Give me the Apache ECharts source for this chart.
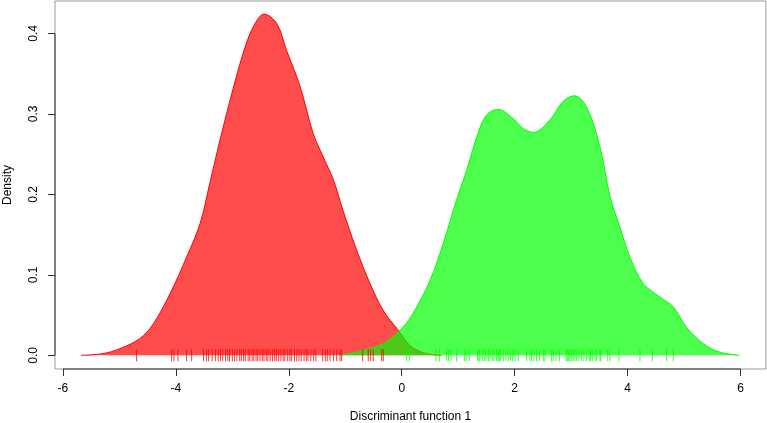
<!DOCTYPE html>
<html>
<head>
<meta charset="utf-8">
<script src="https://cdn.jsdelivr.net/npm/echarts@6/dist/echarts.min.js"></script>
<style>
html,body{margin:0;padding:0;background:#fff;}
#chart{width:767px;height:423px;}
</style>
</head>
<body>
<div id="chart"></div>
<script>
// Density curve of group 1 (red): [x, density]
const redDensity = [
  [-5.68, 0], [-5.30, 0.002], [-4.99, 0.0083], [-4.64, 0.0207], [-4.40, 0.039],
  [-4.10, 0.077], [-3.81, 0.122], [-3.57, 0.164], [-3.40, 0.2136], [-3.22, 0.267],
  [-3.04, 0.317], [-2.81, 0.375], [-2.63, 0.408], [-2.435, 0.424], [-2.215, 0.4125],
  [-2.04, 0.379], [-1.80, 0.334], [-1.57, 0.276], [-1.40, 0.248],
  [-1.21, 0.218], [-1.04, 0.180], [-0.80, 0.131], [-0.56, 0.089], [-0.33, 0.056],
  [-0.06, 0.031], [0.15, 0.012], [0.40, 0.003], [0.70, 0]
];
// Density curve of group 2 (green): [x, density]
const greenDensity = [
  [-1.09, 0], [-0.68, 0.006], [-0.33, 0.0145], [-0.03, 0.031], [0.20, 0.052],
  [0.50, 0.093], [0.735, 0.139], [0.97, 0.193], [1.15, 0.230], [1.33, 0.2715],
  [1.50, 0.2985], [1.71, 0.3056], [1.975, 0.294], [2.15, 0.282], [2.33, 0.277],
  [2.62, 0.292], [2.85, 0.315], [3.055, 0.3225], [3.27, 0.309], [3.51, 0.259],
  [3.69, 0.197], [3.86, 0.160], [4.04, 0.122], [4.28, 0.089], [4.57, 0.0725],
  [4.81, 0.060], [5.04, 0.035], [5.34, 0.0145], [5.63, 0.004], [5.98, 0]
];
// Rug observations
const redRug = [
  -4.695, -4.075, -4.034, -3.963, -3.81, -3.72, -3.51, -3.455, -3.42, -3.356,
  -3.30, -3.25, -3.21, -3.17, -3.12, -3.08, -3.05, -3.00, -2.96, -2.92,
  -2.87, -2.84, -2.80, -2.77, -2.72, -2.69, -2.65, -2.62, -2.58, -2.55,
  -2.51, -2.47, -2.44, -2.40, -2.37, -2.33, -2.29, -2.25, -2.22, -2.18,
  -2.14, -2.10, -2.07, -2.02, -1.98, -1.95, -1.90, -1.86, -1.82, -1.78,
  -1.73, -1.69, -1.66, -1.61, -1.56, -1.52, -1.40, -1.354, -1.319, -1.27,
  -1.21, -1.153, -1.094, -1.065, -0.693, -0.593, -0.55, -0.504, -0.356, -0.327
];
const greenRug = [
  0.087, 0.133, 0.606, 0.665, 0.795, 0.830, 0.871, 0.972, 1.107, 1.137,
  1.196, 1.344, 1.367, 1.385, 1.426, 1.461, 1.491, 1.532, 1.562, 1.603,
  1.633, 1.680, 1.709, 1.727, 1.751, 1.798, 1.845, 1.886, 1.928, 1.964,
  2.005, 2.063, 2.212, 2.270, 2.300, 2.341, 2.388, 2.435, 2.506, 2.536,
  2.654, 2.683, 2.731, 2.790, 2.908, 2.931, 2.955, 2.979, 3.008, 3.037,
  3.067, 3.097, 3.138, 3.186, 3.226, 3.274, 3.321, 3.345, 3.374, 3.421,
  3.451, 3.510, 3.527, 3.646, 3.687, 3.846, 4.218, 4.436, 4.691, 4.808
];
const xTicks = [-6, -4, -2, 0, 2, 4, 6];
const yTicks = [0, 0.1, 0.2, 0.3, 0.4];
const xTitle = 'Discriminant function 1';
const yTitle = 'Density';

const X_MIN = -6.14, X_MAX = 6.45, Y_MIN = -0.017, Y_MAX = 0.4403;
const FONT = "'Liberation Sans', Arial, Helvetica, sans-serif";
const AXIS_COLOR = '#333';

const chart = echarts.init(document.getElementById('chart'), null, {renderer: 'canvas'});
chart.setOption({
  animation: false,
  backgroundColor: '#fff',
  grid: {left: 55, right: 1, top: 1, bottom: 54, show: true, borderColor: '#999', borderWidth: 1,
    backgroundColor: 'transparent', containLabel: false, outerBoundsMode: 'none'},
  xAxis: {
    type: 'value', min: X_MIN, max: X_MAX,
    axisLine: {show: false, onZero: false}, splitLine: {show: false},
    axisTick: {show: true, customValues: xTicks, length: 7, inside: false, lineStyle: {color: AXIS_COLOR, width: 1}},
    axisLabel: {show: true, customValues: xTicks, margin: 14, fontSize: 12, color: '#000', fontFamily: FONT,
      formatter: v => String(v)},
    name: xTitle, nameLocation: 'middle', nameGap: 42,
    nameTextStyle: {fontSize: 12, color: '#000', fontFamily: FONT}
  },
  yAxis: {
    type: 'value', min: Y_MIN, max: Y_MAX,
    axisLine: {show: false, onZero: false}, splitLine: {show: false},
    axisTick: {show: true, customValues: yTicks, length: 7, inside: false, lineStyle: {color: AXIS_COLOR, width: 1}},
    axisLabel: {show: true, customValues: yTicks, rotate: 90, margin: 15, fontSize: 12, color: '#000', fontFamily: FONT,
      formatter: v => v.toFixed(1)},
    name: yTitle, nameLocation: 'middle', nameGap: 41, nameRotate: 90,
    nameTextStyle: {fontSize: 12, color: '#000', fontFamily: FONT}
  },
  series: [
    {
      type: 'line', data: redDensity, smooth: 0.35, symbol: 'none', z: 2,
      lineStyle: {color: '#ff0000', width: 1},
      areaStyle: {color: 'rgba(255,0,0,0.7)', opacity: 1, origin: 0}
    },
    {
      type: 'line', data: greenDensity, smooth: 0.35, symbol: 'none', z: 3,
      lineStyle: {color: '#00ff00', width: 1},
      areaStyle: {color: 'rgba(0,255,0,0.7)', opacity: 1, origin: 0}
    },
    {
      type: 'scatter', data: redRug.map(v => [v, 0]), symbol: 'rect', symbolSize: [1, 12], z: 4,
      itemStyle: {color: '#ff0000'}, silent: true
    },
    {
      type: 'scatter', data: greenRug.map(v => [v, 0]), symbol: 'rect', symbolSize: [1, 12], z: 4,
      itemStyle: {color: '#00ff00'}, silent: true
    },
    {
      type: 'line', data: [[xTicks[0], Y_MIN], [xTicks[xTicks.length - 1], Y_MIN]], symbol: 'none', clip: false, z: 5,
      lineStyle: {color: AXIS_COLOR, width: 1}, silent: true
    },
    {
      type: 'line', data: [[X_MIN, yTicks[0]], [X_MIN, yTicks[yTicks.length - 1]]], symbol: 'none', clip: false, z: 5,
      lineStyle: {color: AXIS_COLOR, width: 1}, silent: true
    }
  ]
});
</script>
</body>
</html>
